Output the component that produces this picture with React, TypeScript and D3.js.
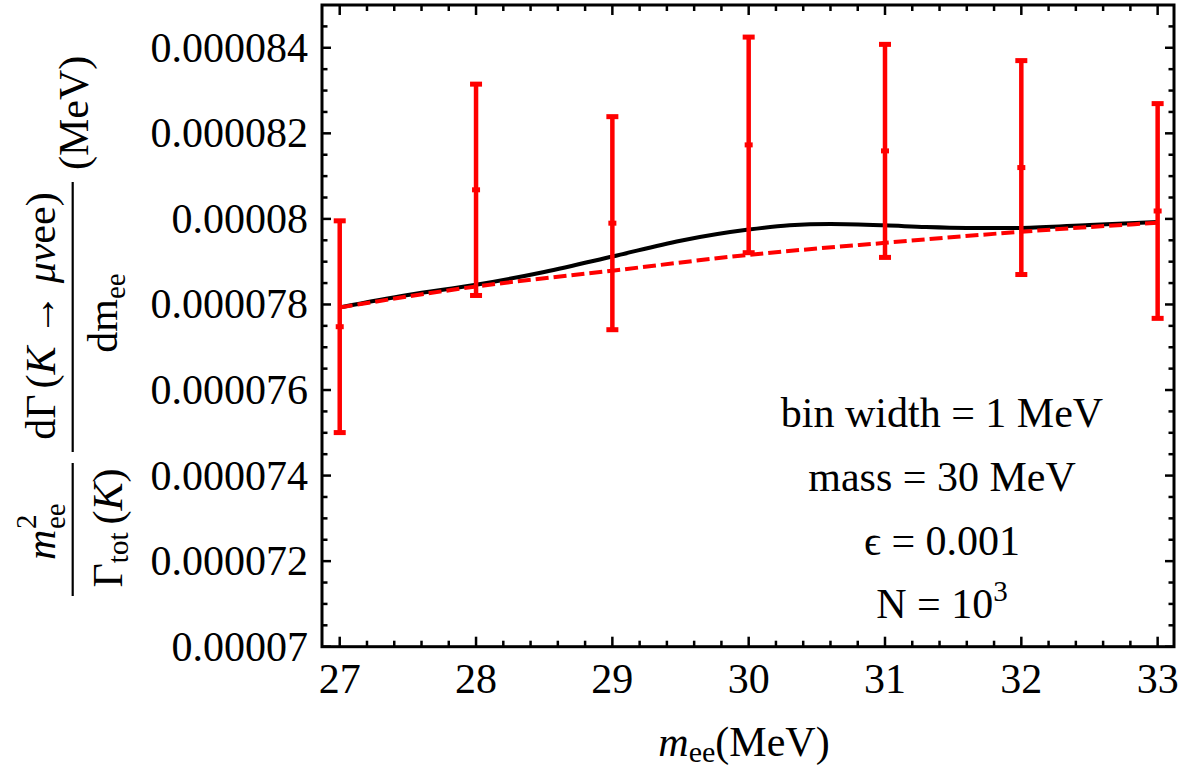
import React from "react";
import * as d3 from "d3";

// ---- data ----
const binMass = [27, 28, 29, 30, 31, 32, 33];
const binValue = [7.748e-5, 8.068e-5, 7.99e-5, 8.173e-5, 8.159e-5, 8.12e-5, 8.0185e-5];
const binError = [2.475e-6, 2.47e-6, 2.49e-6, 2.52e-6, 2.49e-6, 2.5e-6, 2.51e-6];

const signalMass = [27, 27.5, 28, 28.5, 29, 29.5, 30, 30.3, 30.6, 31, 31.3, 31.6, 32, 32.5, 33];
const signalValue = [7.793e-5, 7.822e-5, 7.846e-5, 7.876e-5, 7.912e-5, 7.949e-5, 7.975e-5, 7.985e-5, 7.988e-5, 7.985e-5, 7.981e-5, 7.979e-5, 7.979e-5, 7.986e-5, 7.993e-5];

const bgMass = [27, 28, 29, 30, 31, 32, 33];
const bgValue = [7.793e-5, 7.842e-5, 7.879e-5, 7.916e-5, 7.944e-5, 7.97e-5, 7.991e-5];

const xTickValues = [27, 28, 29, 30, 31, 32, 33];
const xTickLabels = ["27", "28", "29", "30", "31", "32", "33"];
const yTickValues = [7e-5, 7.2e-5, 7.4e-5, 7.6e-5, 7.8e-5, 8e-5, 8.2e-5, 8.4e-5];
const yTickLabels = ["0.00007", "0.000072", "0.000074", "0.000076", "0.000078", "0.00008", "0.000082", "0.000084"];

const annotationLines = ["bin width = 1 MeV", "mass = 30 MeV", "\u03f5 = 0.001"];

const FONT = "'Liberation Serif', 'Times New Roman', 'DejaVu Serif', serif";

export default function App() {
  const left = 322, right = 1174, top = 5, bottom = 646.7;
  const x = d3.scaleLinear().domain([26.87, 33.12]).range([left, right]);
  const y = d3.scaleLinear().domain([7e-5, 8.5e-5]).range([bottom, top]);

  const xMinor: number[] = [];
  for (let i = 0; i <= 30; i++) if (i % 5 !== 0) xMinor.push(27 + i * 0.2);
  const yMinor: number[] = [];
  for (let i = 1; i < 30; i++) if (i % 4 !== 0) yMinor.push(7e-5 + i * 5e-7);

  const line = d3.line<[number, number]>().x(d => x(d[0])).y(d => y(d[1])).curve(d3.curveMonotoneX);
  const signalPath = line(signalMass.map((m, i) => [m, signalValue[i]]) as [number, number][]) || "";
  const bgPath = line(bgMass.map((m, i) => [m, bgValue[i]]) as [number, number][]) || "";

  const tickStroke = 2.5;
  const xMaj = 10, xMin = 6, yMaj = 9, yMin = 5.5;

  return (
    <svg width={1180} height={770} style={{ position: "absolute", left: 0, top: 0, background: "#fff" }} fontFamily={FONT}>
      {/* data */}
      <path d={signalPath} fill="none" stroke="#000" strokeWidth={4} />
      <path d={bgPath} fill="none" stroke="#ff0000" strokeWidth={4} strokeDasharray="13,5" />
      {binMass.map((m, i) => {
        const cx = x(m);
        const yt = y(binValue[i] + binError[i]);
        const yb = y(binValue[i] - binError[i]);
        const yc = y(binValue[i]);
        return (
          <g key={i} fill="#ff0000">
            <line x1={cx} x2={cx} y1={yt} y2={yb} stroke="#ff0000" strokeWidth={4.5} />
            <rect x={cx - 6} y={yt - 2.5} width={12} height={5} />
            <rect x={cx - 6} y={yb - 2.5} width={12} height={5} />
            <rect x={cx - 4} y={yc - 2.5} width={8} height={5} />
          </g>
        );
      })}

      {/* ticks on all sides */}
      <g stroke="#000" strokeWidth={tickStroke}>
        {xTickValues.map(v => (
          <g key={"xm" + v}>
            <line x1={x(v)} x2={x(v)} y1={bottom} y2={bottom - xMaj} />
            <line x1={x(v)} x2={x(v)} y1={top} y2={top + xMaj} />
          </g>
        ))}
        {xMinor.map(v => (
          <g key={"xn" + v}>
            <line x1={x(v)} x2={x(v)} y1={bottom} y2={bottom - xMin} />
            <line x1={x(v)} x2={x(v)} y1={top} y2={top + xMin} />
          </g>
        ))}
        {yTickValues.map(v => (
          <g key={"ym" + v}>
            <line x1={left} x2={left + yMaj} y1={y(v)} y2={y(v)} />
            <line x1={right} x2={right - yMaj} y1={y(v)} y2={y(v)} />
          </g>
        ))}
        {yMinor.map(v => (
          <g key={"yn" + v}>
            <line x1={left} x2={left + yMin} y1={y(v)} y2={y(v)} />
            <line x1={right} x2={right - yMin} y1={y(v)} y2={y(v)} />
          </g>
        ))}
      </g>
      <rect x={left} y={top} width={right - left} height={bottom - top} fill="none" stroke="#000" strokeWidth={3} />

      {/* tick labels */}
      <g fontSize={42} fill="#000">
        {xTickValues.map((v, i) => (
          <text key={"xl" + v} x={x(v)} y={693} textAnchor="middle">{xTickLabels[i]}</text>
        ))}
        {yTickValues.map((v, i) => (
          <text key={"yl" + v} x={308} y={y(v) + 14} textAnchor="end">{yTickLabels[i]}</text>
        ))}
      </g>

      {/* annotations */}
      <g fontSize={42} fill="#000" textAnchor="middle">
        {annotationLines.map((t, i) => (
          <text key={t} x={942} y={427 + i * 64}>{t}</text>
        ))}
        <text x={942} y={618}>
          N = 10<tspan fontSize={29} dy={-17}>3</tspan>
        </text>
      </g>

      {/* x axis title */}
      <text x={744} y={756} fontSize={42} textAnchor="middle" fill="#000">
        <tspan fontStyle="italic">m</tspan>
        <tspan fontSize={30} dy={6}>ee</tspan>
        <tspan dy={-6}>(MeV)</tspan>
      </text>

      {/* y axis title (rotated) */}
      <g transform="rotate(-90)" fill="#000" fontSize={42}>
        {/* fraction 1 */}
        <text x={-560} y={55} fontStyle="italic">m</text>
        <text x={-529} y={65} fontSize={29}>ee</text>
        <text x={-529} y={36} fontSize={29}>2</text>
        <line x1={-596} x2={-463} y1={72.7} y2={72.7} stroke="#000" strokeWidth={2.2} />
        <text x={-528} y={122} textAnchor="middle">
          <tspan>Γ</tspan>
          <tspan fontSize={29} dy={6}>tot</tspan>
          <tspan dy={-6} dx={8}>(</tspan>
          <tspan fontStyle="italic">K</tspan>
          <tspan>)</tspan>
        </text>
        {/* fraction 2 */}
        <text x={-316} y={55} textAnchor="middle">
          <tspan>dΓ</tspan>
          <tspan dx={6}>(</tspan>
          <tspan fontStyle="italic">K</tspan>
          <tspan> → </tspan>
          <tspan fontStyle="italic">μν</tspan>
          <tspan>ee)</tspan>
        </text>
        <line x1={-452} x2={-182} y1={72.7} y2={72.7} stroke="#000" strokeWidth={2.2} />
        <text x={-313} y={117} textAnchor="middle">
          <tspan>dm</tspan>
          <tspan fontSize={29} dy={8}>ee</tspan>
        </text>
        <text x={-170} y={88}>(MeV)</text>
      </g>
    </svg>
  );
}
